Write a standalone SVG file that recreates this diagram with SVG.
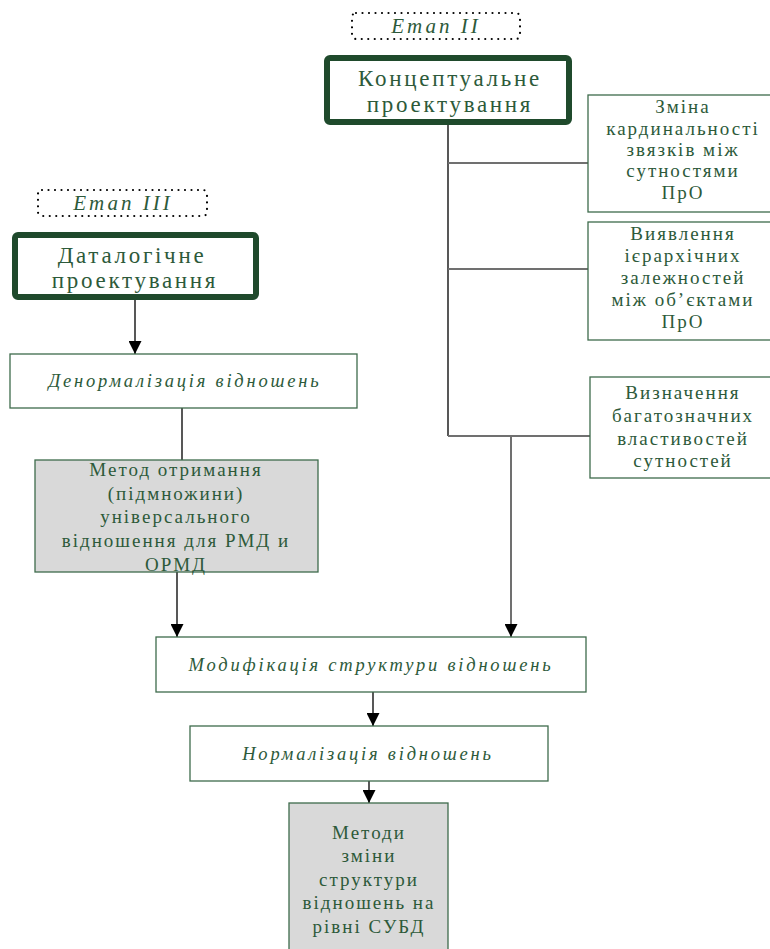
<svg xmlns="http://www.w3.org/2000/svg" width="770" height="949" viewBox="0 0 770 949">
  <style>
    .txt { font-family: "Liberation Serif", "Times New Roman", serif; fill: #2d5a3a; text-anchor: middle; }
    .big { font-size: 23px; letter-spacing: 2.7px; }
    .mid { font-size: 19px; letter-spacing: 2px; }
    .it { font-style: italic; font-size: 18.5px; letter-spacing: 2.8px; }
    .stage { font-style: italic; font-size: 21px; letter-spacing: 3px; }
    .thick { fill: #ffffff; stroke: #1f4a2c; stroke-width: 6; }
    .plain { fill: #ffffff; stroke: #3e6b4c; stroke-width: 1.3; }
    .grey { fill: #d9d9d9; stroke: #3e6b4c; stroke-width: 1.3; }
    .dots { fill: none; stroke: #000000; stroke-width: 2.2; stroke-dasharray: 0 6.5; stroke-linecap: round; }
    .link { fill: none; stroke: #111111; stroke-width: 1.4; }
    .branch { fill: none; stroke: #707070; stroke-width: 2; }
  </style>
  <defs>
    <!-- filled triangular head, tip at the path end -->
    <marker id="arrow" markerWidth="13" markerHeight="13" refX="13" refY="6.5" orient="auto" markerUnits="userSpaceOnUse" viewBox="0 0 13 13">
      <path d="M0,0 L13,6.5 L0,13 Z" fill="#000000"/>
    </marker>
  </defs>

  <!-- connectors -->
  <g id="connectors">
    <path class="link" d="M448,125 V436"/>
    <path class="branch" d="M448,163 H588"/>
    <path class="branch" d="M448,269 H588"/>
    <path class="branch" d="M448,436 H590"/>
    <path class="branch" d="M511,436 V637" marker-end="url(#arrow)"/>
    <path class="link" d="M135,300 V354" marker-end="url(#arrow)"/>
    <path class="link" d="M182,408 V460"/>
    <path class="link" d="M177,572 V637" marker-end="url(#arrow)"/>
    <path class="link" d="M373,692 V726" marker-end="url(#arrow)"/>
    <path class="link" d="M369,781 V803" marker-end="url(#arrow)"/>
  </g>

  <!-- stage II label -->
  <g id="stage2">
    <rect class="dots" x="352" y="13" width="168" height="26" rx="4"/>
    <text class="txt stage" x="436" y="33">Етап II</text>
  </g>

  <!-- conceptual design -->
  <g id="conceptual">
    <rect class="thick" x="327" y="58" width="242" height="64" rx="3"/>
    <text class="txt big" x="450" y="86">Концептуальне</text>
    <text class="txt big" x="450" y="112">проектування</text>
  </g>

  <!-- right-hand tasks -->
  <g id="cardinality">
    <rect class="plain" x="588" y="95" width="200" height="117"/>
    <text class="txt mid" x="683" y="113">Зміна</text>
    <text class="txt mid" x="683" y="135">кардинальності</text>
    <text class="txt mid" x="683" y="156">звязків між</text>
    <text class="txt mid" x="683" y="177">сутностями</text>
    <text class="txt mid" x="683" y="199">ПрО</text>
  </g>
  <g id="hierarchy">
    <rect class="plain" x="588" y="222" width="200" height="118"/>
    <text class="txt mid" x="683" y="240">Виявлення</text>
    <text class="txt mid" x="683" y="262">ієрархічних</text>
    <text class="txt mid" x="683" y="284">залежностей</text>
    <text class="txt mid" x="683" y="306">між об’єктами</text>
    <text class="txt mid" x="683" y="328">ПрО</text>
  </g>
  <g id="multivalued">
    <rect class="plain" x="590" y="377" width="200" height="101"/>
    <text class="txt mid" x="683" y="399">Визначення</text>
    <text class="txt mid" x="683" y="422">багатозначних</text>
    <text class="txt mid" x="683" y="445">властивостей</text>
    <text class="txt mid" x="683" y="467">сутностей</text>
  </g>

  <!-- stage III label -->
  <g id="stage3">
    <rect class="dots" x="38" y="190" width="169" height="26" rx="4"/>
    <text class="txt stage" x="123" y="210">Етап III</text>
  </g>

  <!-- datalogical design -->
  <g id="datalogical">
    <rect class="thick" x="15" y="235" width="241" height="62" rx="3"/>
    <text class="txt big" x="132" y="263">Даталогічне</text>
    <text class="txt big" x="135" y="288">проектування</text>
  </g>

  <g id="denormalization">
    <rect class="plain" x="10" y="354" width="347" height="54"/>
    <text class="txt it" x="185" y="387">Денормалізація відношень</text>
  </g>

  <g id="universal">
    <rect class="grey" x="35" y="460" width="283" height="112"/>
    <text class="txt mid" x="176" y="476">Метод отримання</text>
    <text class="txt mid" x="176" y="500">(підмножини)</text>
    <text class="txt mid" x="176" y="523">універсального</text>
    <text class="txt mid" x="176" y="547">відношення для РМД и</text>
    <text class="txt mid" x="176" y="571">ОРМД</text>
  </g>

  <g id="modification">
    <rect class="plain" x="156" y="637" width="430" height="55"/>
    <text class="txt it" x="371" y="671">Модифікація структури відношень</text>
  </g>

  <g id="normalization">
    <rect class="plain" x="190" y="726" width="358" height="55"/>
    <text class="txt it" x="368" y="760">Нормалізація відношень</text>
  </g>

  <g id="dbms-methods">
    <rect class="grey" x="289" y="803" width="159" height="160"/>
    <text class="txt mid" x="369" y="839">Методи</text>
    <text class="txt mid" x="369" y="862">зміни</text>
    <text class="txt mid" x="369" y="886">структури</text>
    <text class="txt mid" x="369" y="909">відношень на</text>
    <text class="txt mid" x="369" y="933">рівні СУБД</text>
  </g>
</svg>
